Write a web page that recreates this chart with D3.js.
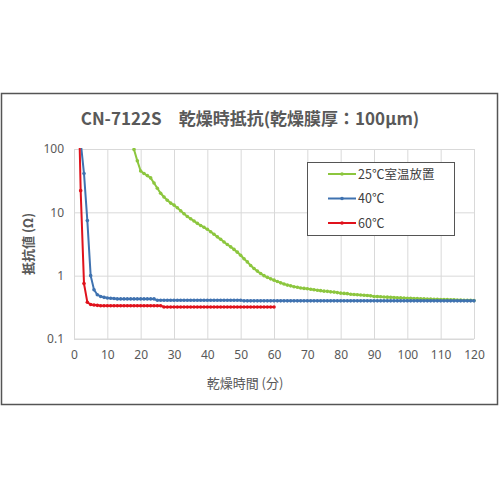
<!DOCTYPE html>
<html>
<head>
<meta charset="utf-8">
<script src="https://cdn.jsdelivr.net/npm/d3@7"></script>
<style>
  body { margin: 0; background: #fff; }
  svg text { font-family: "Noto Sans CJK JP", "Noto Sans", sans-serif; }
</style>
</head>
<body>
<div id="chart"></div>
<script>
// chart data (minutes, ohm)
const titleText = 'CN-7122S\u3000乾燥時抵抗(乾燥膜厚：100μm)';
const xTicks = [0, 10, 20, 30, 40, 50, 60, 70, 80, 90, 100, 110, 120];
const yTicks = [0.1, 1, 10, 100];
const seriesNames = ['25℃室温放置', '40℃', '60℃'];

const greenStart = 18;
const greenValues = [
    98, 65, 45, 41, 38, 35, 29, 24, 20, 17.5, 15.5, 14, 13,
    11.8, 10.6, 9.5, 8.6, 7.9, 7.3, 6.7, 6.2, 5.8, 5.4,
    4.95, 4.5, 4.1, 3.75, 3.4, 3.1, 2.85, 2.6, 2.35, 2.1,
    1.85, 1.65, 1.45, 1.3, 1.18, 1.08, 1.0, 0.94, 0.89, 0.85,
    0.81, 0.77, 0.74, 0.71, 0.69, 0.67, 0.655, 0.64, 0.63, 0.62,
    0.61, 0.60, 0.59, 0.58, 0.57, 0.565, 0.555, 0.55, 0.54, 0.53,
    0.525, 0.52, 0.51, 0.505, 0.50, 0.495, 0.49, 0.485, 0.48, 0.47,
    0.467, 0.464, 0.461, 0.458, 0.455, 0.452, 0.449, 0.446, 0.443, 0.44,
    0.438, 0.436, 0.434, 0.432, 0.43, 0.428, 0.426, 0.424, 0.422, 0.42,
    0.419, 0.418, 0.416, 0.415, 0.413, 0.412, 0.41, 0.409, 0.407, 0.405
];

const blueStart = 2;
const blueValues = [
    130, 41, 7.4, 1.0, 0.6, 0.5, 0.47, 0.455,
    0.445, 0.44, 0.435, 0.43, 0.43, 0.43, 0.43, 0.43, 0.43, 0.43,
    0.43, 0.43, 0.43, 0.43, 0.43, 0.41, 0.41, 0.41, 0.41, 0.41,
    0.41, 0.41, 0.41, 0.41, 0.41, 0.41, 0.41, 0.41, 0.41, 0.41,
    0.41, 0.41, 0.41, 0.41, 0.41, 0.41, 0.41, 0.41, 0.41, 0.41,
    0.41, 0.40, 0.40, 0.40, 0.40, 0.40, 0.40, 0.40, 0.40, 0.40,
    0.40, 0.40, 0.40, 0.40, 0.40, 0.40, 0.40, 0.40, 0.40, 0.40,
    0.40, 0.40, 0.40, 0.40, 0.40, 0.40, 0.40, 0.40, 0.40, 0.40,
    0.40, 0.40, 0.40, 0.40, 0.40, 0.40, 0.40, 0.40, 0.40, 0.40,
    0.40, 0.40, 0.40, 0.40, 0.40, 0.40, 0.40, 0.40, 0.40, 0.40,
    0.40, 0.40, 0.40, 0.40, 0.40, 0.40, 0.40, 0.40, 0.40, 0.40,
    0.40, 0.40, 0.40, 0.40, 0.40, 0.40, 0.40, 0.40, 0.40, 0.40,
    0.40
];

const redStart = 1;
const redValues = [
    5000, 22, 0.75, 0.38, 0.35, 0.345, 0.34, 0.335, 0.335, 0.335,
    0.335, 0.335, 0.335, 0.335, 0.335, 0.335, 0.335, 0.335, 0.335, 0.335,
    0.335, 0.335, 0.335, 0.335, 0.335, 0.335, 0.32, 0.32, 0.32, 0.32,
    0.32, 0.32, 0.32, 0.32, 0.32, 0.32, 0.32, 0.32, 0.32, 0.32,
    0.32, 0.32, 0.32, 0.32, 0.32, 0.32, 0.32, 0.32, 0.32, 0.32,
    0.32, 0.32, 0.32, 0.32, 0.32, 0.32, 0.32, 0.32, 0.32, 0.32
];

const colors = ['#8cc63e', '#3f72b0', '#e0121c'];

const width = 500, height = 500;
const margin = { left: 74, right: 26, top: 149, bottom: 161 };
const plotW = width - margin.left - margin.right;
const plotH = height - margin.top - margin.bottom;

const svg = d3.select('#chart')
    .append('svg')
    .attr('width', width)
    .attr('height', height);

// outer frame
svg.append('rect')
    .attr('x', 1.5).attr('y', 93.5)
    .attr('width', 496).attr('height', 311)
    .attr('fill', '#fff')
    .attr('stroke', '#555')
    .attr('stroke-width', 1.5);

svg.append('text')
    .attr('x', 250).attr('y', 125)
    .attr('text-anchor', 'middle')
    .attr('font-size', 17)
    .attr('font-weight', 'bold')
    .attr('fill', '#595959')
    .text(titleText);

const x = d3.scaleLinear().domain([0, 120]).range([0, plotW]);
const y = d3.scaleLog().domain([0.1, 100]).range([plotH, 0]);

const g = svg.append('g').attr('transform', `translate(${margin.left},${margin.top})`);

svg.append('defs').append('clipPath').attr('id', 'plotclip')
    .append('rect').attr('x', -3).attr('y', -1).attr('width', plotW + 6).attr('height', plotH + 2);

// gridlines
g.append('g')
    .attr('transform', `translate(0,${plotH})`)
    .call(d3.axisBottom(x).tickValues(xTicks).tickSize(-plotH).tickFormat(''))
    .call(s => s.select('.domain').remove())
    .call(s => s.selectAll('line').attr('stroke', '#d9d9d9'));

g.append('g')
    .call(d3.axisLeft(y).tickValues(yTicks).tickSize(-plotW).tickFormat(''))
    .call(s => s.select('.domain').remove())
    .call(s => s.selectAll('line').attr('stroke', '#d9d9d9'));

// axis baseline
g.append('line')
    .attr('x1', 0).attr('x2', plotW)
    .attr('y1', plotH).attr('y2', plotH)
    .attr('stroke', '#d9d9d9');

// tick labels
g.append('g')
    .attr('transform', `translate(0,${plotH})`)
    .call(d3.axisBottom(x).tickValues(xTicks).tickSize(0).tickPadding(11))
    .call(s => s.select('.domain').remove())
    .call(s => s.selectAll('text')
        .attr('font-size', 12).attr('fill', '#595959')
        .style('font-family', '"Noto Sans", sans-serif'));

g.append('g')
    .call(d3.axisLeft(y).tickValues(yTicks).tickSize(0).tickPadding(10)
        .tickFormat(d => d3.format('')(d)))
    .call(s => s.select('.domain').remove())
    .call(s => s.selectAll('text')
        .attr('font-size', 12).attr('fill', '#595959')
        .style('font-family', '"Noto Sans", sans-serif'));

// axis titles
svg.append('text')
    .attr('x', 245).attr('y', 388)
    .attr('text-anchor', 'middle')
    .attr('font-size', 13)
    .attr('fill', '#595959')
    .text('乾燥時間 (分)');

svg.append('text')
    .attr('transform', 'translate(33,244) rotate(-90)')
    .attr('text-anchor', 'middle')
    .attr('font-size', 13)
    .attr('font-weight', 'bold')
    .attr('fill', '#595959')
    .text('抵抗値 (Ω)');

// series
const series = [
    { start: greenStart, values: greenValues },
    { start: blueStart, values: blueValues },
    { start: redStart, values: redValues }
].map((s, i) => ({
    name: seriesNames[i],
    color: colors[i],
    points: s.values.map((v, j) => ({ t: s.start + j, v: v }))
}));

const line = d3.line().x(d => x(d.t)).y(d => y(d.v));

const plot = g.append('g').attr('clip-path', 'url(#plotclip)');

series.forEach(s => {
    plot.append('path')
        .datum(s.points)
        .attr('fill', 'none')
        .attr('stroke', s.color)
        .attr('stroke-width', 2)
        .attr('d', line);

    plot.selectAll(null)
        .data(s.points)
        .enter()
        .append('circle')
        .attr('cx', d => x(d.t))
        .attr('cy', d => y(d.v))
        .attr('r', 1.8)
        .attr('fill', s.color);
});

// legend
const legend = svg.append('g').attr('transform', 'translate(307,162)');
legend.append('rect')
    .attr('x', 0.5).attr('y', 0.5)
    .attr('width', 147).attr('height', 73)
    .attr('fill', '#fff')
    .attr('stroke', '#555')
    .attr('stroke-width', 1);

series.forEach((s, i) => {
    const ly = 12 + i * 24.5;
    legend.append('line')
        .attr('x1', 21).attr('x2', 49)
        .attr('y1', ly).attr('y2', ly)
        .attr('stroke', s.color)
        .attr('stroke-width', 2);
    legend.append('circle')
        .attr('cx', 35).attr('cy', ly).attr('r', 1.8)
        .attr('fill', s.color);
    legend.append('text')
        .attr('x', 51).attr('y', ly + 4.5)
        .attr('font-size', 12.5)
        .attr('fill', '#404040')
        .text(s.name);
});
</script>
</body>
</html>
